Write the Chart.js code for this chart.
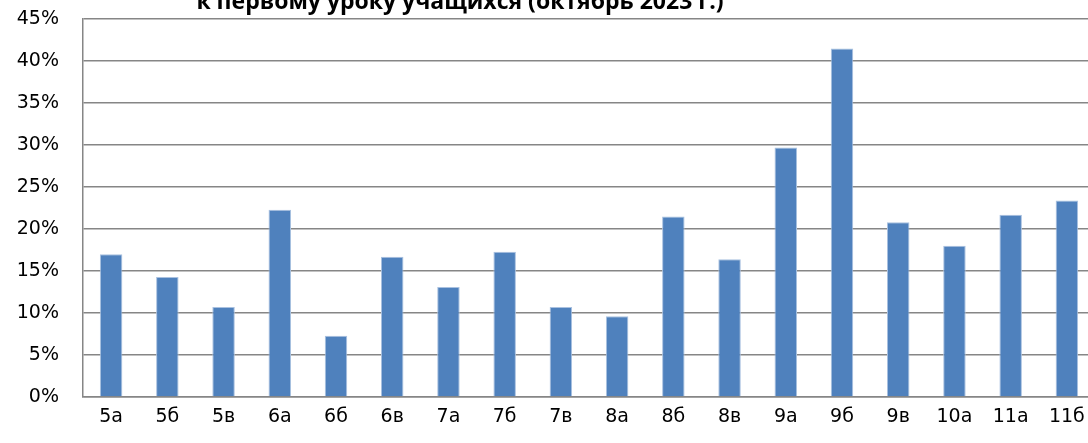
<!DOCTYPE html>
<html>
<head>
<meta charset="utf-8">
<script src="https://cdn.jsdelivr.net/npm/chart.js@4"></script>
<style>
  html, body { margin: 0; padding: 0; background: #fff; overflow: hidden; }
  #wrap { width: 1088px; height: 443px; overflow: hidden; }
</style>
</head>
<body>
<div id="wrap"><canvas id="chart" width="1097" height="443"></canvas></div>
<script>
const titleText = "к первому уроку учащихся (октябрь 2023 г.)";
const classes = ["5а", "5б", "5в", "6а", "6б", "6в", "7а", "7б", "7в", "8а", "8б", "8в", "9а", "9б", "9в", "10а", "11а", "11б"];
const lateShare = [17.0, 14.3, 10.7, 22.3, 7.3, 16.7, 13.1, 17.3, 10.7, 9.6, 21.5, 16.4, 29.7, 41.5, 20.8, 18.0, 21.7, 23.4];
const yTicks = [0, 5, 10, 15, 20, 25, 30, 35, 40, 45];

const FONT = "'DejaVu Sans', 'Open Sans', sans-serif";
const TITLE_FONT = "'Open Sans', 'Liberation Sans', sans-serif";
const GRID = "#868686";

// the title sits mostly above the visible area, only its lower part shows
const clippedTitle = {
  id: "clippedTitle",
  afterDraw(chart) {
    const { ctx } = chart;
    ctx.save();
    ctx.font = "bold 23px " + TITLE_FONT;
    ctx.fillStyle = "#000";
    ctx.textAlign = "center";
    ctx.textBaseline = "alphabetic";
    ctx.fillText(titleText, 460, 9);
    ctx.restore();
  },
};

new Chart(document.getElementById("chart"), {
  type: "bar",
  data: {
    labels: classes,
    datasets: [{
      data: lateShare,
      backgroundColor: "#4f81bd",
      borderColor: "#a9c1e0",
      borderWidth: 1,
      categoryPercentage: 0.4,
      barPercentage: 1,
    }],
  },
  options: {
    responsive: false,
    animation: false,
    devicePixelRatio: 1,
    layout: { padding: { top: 19, right: 2, left: 0, bottom: 0 } },
    plugins: { legend: { display: false }, title: { display: false }, tooltip: { enabled: false } },
    scales: {
      x: {
        grid: { display: false, drawTicks: false },
        border: { display: true, color: GRID, width: 1.5 },
        ticks: { color: "#000", font: { family: FONT, size: 19 }, padding: 9, maxRotation: 0, autoSkip: false },
        afterFit: (s) => { s.height = 46; },
      },
      y: {
        min: 0,
        max: 45,
        afterBuildTicks: (s) => { s.ticks = yTicks.map((v) => ({ value: v })); },
        grid: { color: GRID, lineWidth: 1.5, drawTicks: false },
        border: { display: true, color: GRID, width: 1.5 },
        ticks: { color: "#000", font: { family: FONT, size: 19 }, padding: 24, callback: (v) => v + "%" },
        afterFit: (s) => {
          s.width = 83;
          // tick padding would otherwise push the plot top down
          s.paddingTop = 0;
          s.paddingBottom = 0;
        },
      },
    },
  },
  plugins: [clippedTitle],
});
</script>
</body>
</html>
